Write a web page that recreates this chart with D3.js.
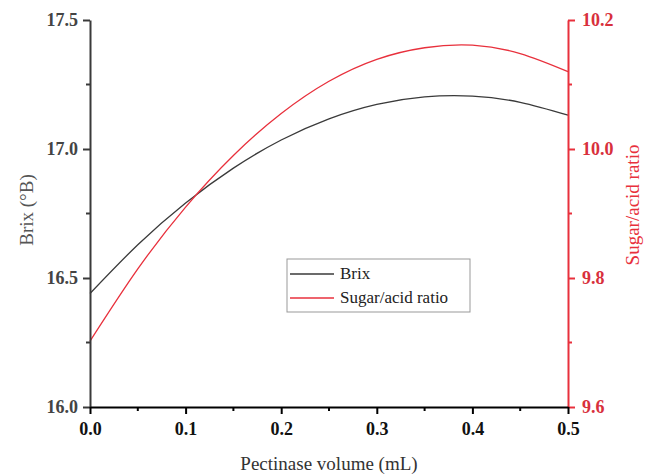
<!DOCTYPE html>
<html>
<head>
<meta charset="utf-8">
<script src="https://cdn.jsdelivr.net/npm/d3@7"></script>
<style>
body { margin: 0; background: #fff; }
</style>
</head>
<body>
<svg id="chart" width="652" height="476" font-family="Liberation Serif"></svg>
<script>
const volume = [0, 0.05, 0.1, 0.15, 0.2, 0.25, 0.3, 0.35, 0.4, 0.45, 0.5];
const brix = [16.440, 16.629, 16.791, 16.926, 17.035, 17.117, 17.173, 17.202, 17.205, 17.181, 17.131];
const sugarAcid = [9.702, 9.814, 9.910, 9.990, 10.055, 10.105, 10.139, 10.157, 10.161, 10.148, 10.120];
const xTicks = [0, 0.1, 0.2, 0.3, 0.4, 0.5];
const yLeftTicks = [16.0, 16.5, 17.0, 17.5];
const yRightTicks = [9.6, 9.8, 10.0, 10.2];
const seriesNames = ["Brix", "Sugar/acid ratio"];

const FONT = "Liberation Serif";
const svg = d3.select("#chart");
const L = 90, R = 568, T = 20, B = 407;
const red = "#e8303c";
const gray = "#3a3a3a";

const x = d3.scaleLinear().domain([0, 0.5]).range([L, R]);
const yL = d3.scaleLinear().domain([16.0, 17.5]).range([B, T]);
const yR = d3.scaleLinear().domain([9.6, 10.2]).range([B, T]);

const lineB = d3.line().x((d, i) => x(volume[i])).y(d => yL(d)).curve(d3.curveNatural);
const lineS = d3.line().x((d, i) => x(volume[i])).y(d => yR(d)).curve(d3.curveNatural);
svg.append("path").attr("d", lineB(brix)).attr("fill", "none").attr("stroke", gray).attr("stroke-width", 1.3);
svg.append("path").attr("d", lineS(sugarAcid)).attr("fill", "none").attr("stroke", red).attr("stroke-width", 1.3);

function minor(ticks) { const m = []; for (let i = 0; i < ticks.length - 1; i++) m.push((ticks[i] + ticks[i + 1]) / 2); return m; }

// left axis
const gL = svg.append("g").attr("transform", `translate(${L},0)`);
gL.call(d3.axisLeft(yL).tickValues(yLeftTicks).tickFormat(d3.format(".1f")).tickSize(7).tickSizeOuter(0));
gL.attr("font-family", FONT);
gL.select(".domain").attr("stroke", gray).attr("stroke-width", 2);
gL.selectAll(".tick line").attr("stroke", gray).attr("stroke-width", 2);
gL.selectAll(".tick text").attr("font-family", FONT).attr("fill", "#444").attr("font-size", 18).attr("font-weight", "bold").attr("x", -12);
gL.selectAll(".minor").data(minor(yLeftTicks)).enter().append("line")
  .attr("x1", 0).attr("x2", -4).attr("y1", d => yL(d)).attr("y2", d => yL(d)).attr("stroke", gray).attr("stroke-width", 2);

// right axis
const gR = svg.append("g").attr("transform", `translate(${R},0)`);
gR.call(d3.axisRight(yR).tickValues(yRightTicks).tickFormat(d3.format(".1f")).tickSize(7).tickSizeOuter(0));
gR.attr("font-family", FONT);
gR.select(".domain").attr("stroke", red).attr("stroke-width", 2);
gR.selectAll(".tick line").attr("stroke", red).attr("stroke-width", 2);
gR.selectAll(".tick text").attr("font-family", FONT).attr("fill", "#d8303c").attr("font-size", 18).attr("font-weight", "bold").attr("x", 14);
gR.selectAll(".minor").data(minor(yRightTicks)).enter().append("line")
  .attr("x1", 0).attr("x2", 4).attr("y1", d => yR(d)).attr("y2", d => yR(d)).attr("stroke", red).attr("stroke-width", 2);

// bottom axis
const gB = svg.append("g").attr("transform", `translate(0,${B})`);
gB.call(d3.axisBottom(x).tickValues(xTicks).tickFormat(d3.format(".1f")).tickSize(7).tickSizeOuter(0));
gB.attr("font-family", FONT);
gB.select(".domain").attr("stroke", "#000").attr("stroke-width", 2.2);
gB.selectAll(".tick line").attr("stroke", "#000").attr("stroke-width", 2);
gB.selectAll(".tick text").attr("font-family", FONT).attr("fill", "#111").attr("font-size", 18).attr("font-weight", "bold").attr("y", 15);
gB.selectAll(".minor").data(minor(xTicks)).enter().append("line")
  .attr("y1", 0).attr("y2", 4).attr("x1", d => x(d)).attr("x2", d => x(d)).attr("stroke", "#000").attr("stroke-width", 2);

// axis titles
svg.append("text").attr("font-family", FONT).attr("transform", `translate(33,210) rotate(-90)`).attr("text-anchor", "middle")
  .attr("font-size", 19).attr("fill", "#555").text("Brix (°B)");
svg.append("text").attr("font-family", FONT).attr("transform", `translate(639,205) rotate(-90)`).attr("text-anchor", "middle")
  .attr("font-size", 19).attr("fill", red).text("Sugar/acid ratio");
svg.append("text").attr("font-family", FONT).attr("x", (L + R) / 2).attr("y", 470).attr("text-anchor", "middle")
  .attr("font-size", 19).attr("fill", "#333").text("Pectinase volume (mL)");

// legend
const lg = svg.append("g");
lg.append("rect").attr("x", 287).attr("y", 259).attr("width", 183).attr("height", 53)
  .attr("fill", "#fff").attr("stroke", "#999").attr("stroke-width", 1);
const lcol = [gray, red];
seriesNames.forEach((n, i) => {
  const yy = 274 + i * 24;
  lg.append("line").attr("x1", 290).attr("x2", 334).attr("y1", yy).attr("y2", yy).attr("stroke", lcol[i]).attr("stroke-width", 1.3);
  lg.append("text").attr("font-family", FONT).attr("x", 340).attr("y", yy + 5).attr("font-size", 17).attr("fill", "#222").text(n);
});
</script>
</body>
</html>
